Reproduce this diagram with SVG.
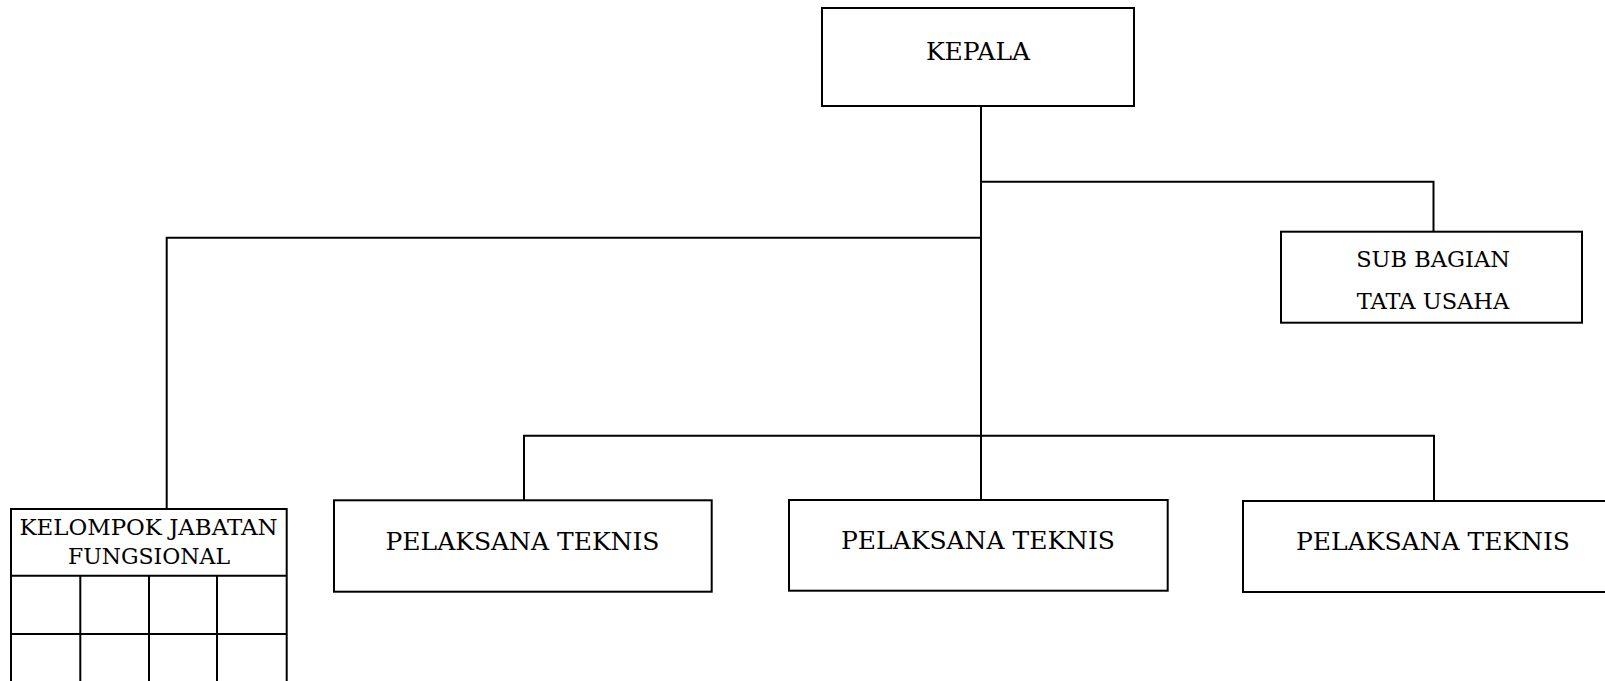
<svg xmlns="http://www.w3.org/2000/svg" width="1605" height="681" viewBox="0 0 1605 681">
<style>
.box{fill:#fff;stroke:#000;stroke-width:2}
.ln{fill:none;stroke:#000;stroke-width:2}
.t{font-family:"DejaVu Serif","Liberation Serif",serif;fill:#000;text-anchor:middle}
.big{font-size:25px}
.mid{font-size:22px}
.sb{font-size:22.5px}
</style>
<rect width="1605" height="681" fill="#fff"/>
<g id="connectors">
<path class="ln" d="M981 106V500"/>
<path class="ln" d="M981 181.7H1433.5V231.7"/>
<path class="ln" d="M981 237.7H166.7V509"/>
<path class="ln" d="M524 500.3V435.7H1434V501"/>
</g>
<g id="kepala">
<rect class="box" x="822" y="8" width="312" height="98"/>
<text class="t big" x="978" y="60">KEPALA</text>
</g>
<g id="subbagian">
<rect class="box" x="1281" y="231.7" width="301" height="91"/>
<text class="t sb" x="1433" y="266.7">SUB BAGIAN</text>
<text class="t sb" x="1433" y="308.7">TATA USAHA</text>
</g>
<g id="jabfung">
<rect class="box" x="11" y="509" width="275.7" height="190"/>
<path class="ln" d="M11 575.7H286.7M11 634H286.7M80.3 575.7V681M149 575.7V681M217 575.7V681"/>
<text class="t mid" x="148.5" y="535" textLength="258" lengthAdjust="spacingAndGlyphs">KELOMPOK JABATAN</text>
<text class="t mid" x="149" y="564.3">FUNGSIONAL</text>
</g>
<g id="pt1">
<rect class="box" x="334" y="500.3" width="377.7" height="91.4"/>
<text class="t big" x="522.5" y="550">PELAKSANA TEKNIS</text>
</g>
<g id="pt2">
<rect class="box" x="789" y="500" width="378.7" height="90.7"/>
<text class="t big" x="978" y="549.3">PELAKSANA TEKNIS</text>
</g>
<g id="pt3">
<rect class="box" x="1243" y="501" width="380" height="91"/>
<text class="t big" x="1433" y="550">PELAKSANA TEKNIS</text>
</g>
</svg>
